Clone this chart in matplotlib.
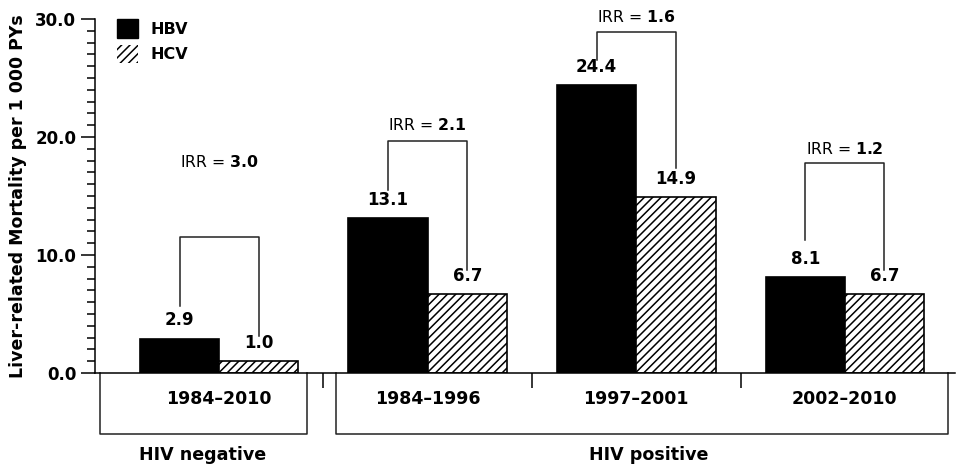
import numpy as np
import matplotlib.pyplot as plt
from matplotlib.patches import Patch

# data
periods = ['1984\u20132010', '1984\u20131996', '1997\u20132001', '2002\u20132010']
hbv = [2.9, 13.1, 24.4, 8.1]
hcv = [1.0, 6.7, 14.9, 6.7]
irr = ['3.0', '2.1', '1.6', '1.2']
# bracket geometry: top height, HBV leg bottom, HCV leg bottom, label height
bracket_top = [11.5, 19.7, 28.9, 17.8]
bracket_left_bottom = [5.7, 15.5, 26.5, 11.3]
bracket_right_bottom = [3.1, 8.7, 17.4, 8.7]
irr_label_y = [17.9, 21.0, 30.2, 19.0]
groups = ['HIV negative', 'HIV positive']

plt.rcParams['font.family'] = 'DejaVu Sans'
plt.rcParams['hatch.linewidth'] = 1.1
plt.rcParams['mathtext.fontset'] = 'dejavusans'

fig = plt.figure(figsize=(9.57, 4.66), dpi=100)
ax = fig.add_axes([0.0993, 0.1996, 0.899, 0.7594])

x = np.arange(len(periods))
w = 0.38
ax.bar(x - w/2, hbv, w, color='black', edgecolor='black', linewidth=1.2)
ax.bar(x + w/2, hcv, w, color='white', edgecolor='black', linewidth=1.2, hatch='////')

# value labels
for i in range(len(periods)):
    ax.text(x[i] - w/2, hbv[i] + 0.8, '%.1f' % hbv[i], ha='center', va='bottom',
            fontsize=12, fontweight='bold')
    ax.text(x[i] + w/2, hcv[i] + 0.8, '%.1f' % hcv[i], ha='center', va='bottom',
            fontsize=12, fontweight='bold')

# IRR brackets
for i in range(len(periods)):
    xl, xr = x[i] - w/2, x[i] + w/2
    ax.plot([xl, xl, xr, xr], [bracket_left_bottom[i], bracket_top[i], bracket_top[i],
            bracket_right_bottom[i]], color='#222222', lw=1.1, clip_on=False)
    ax.text(x[i], irr_label_y[i], r'IRR = $\mathbf{%s}$' % irr[i], ha='center',
            va='center', fontsize=11.3, clip_on=False)

ax.set_xlim(-0.595, 3.53)
ax.set_ylim(0, 30)
ax.set_yticks(np.arange(0, 31, 10))
ax.set_yticklabels(['%.1f' % v for v in np.arange(0, 31, 10)], fontsize=12, fontweight='bold')
ax.set_yticks(np.arange(0, 31, 1), minor=True)
ax.tick_params(axis='y', which='major', length=10, width=1.1)
ax.tick_params(axis='y', which='minor', length=6, width=1.1)
ax.set_xticks([0.5, 1.5, 2.5])
ax.set_xticklabels([])
ax.tick_params(axis='x', length=11, width=1.1)
ax.set_ylabel('Liver-related Mortality per 1 000 PYs', fontsize=12.5, fontweight='bold', labelpad=6)

for s in ['top', 'right']:
    ax.spines[s].set_visible(False)
for s in ['left', 'bottom']:
    ax.spines[s].set_linewidth(1.1)

# period labels under the axis
for i in range(len(periods)):
    ax.text(x[i], -2.2, periods[i], ha='center', va='center', fontsize=12.5,
            fontweight='bold', clip_on=False)

# group boxes
box_bottom = -5.17
for x0, x1 in [(-0.571, 0.422), (0.561, 3.497)]:
    ax.plot([x0, x0, x1, x1], [0, box_bottom, box_bottom, 0], color='#222222',
            lw=1.1, clip_on=False)
ax.text(-0.08, -6.95, groups[0], ha='center', va='center', fontsize=12.6,
        fontweight='bold', clip_on=False)
ax.text(2.06, -6.95, groups[1], ha='center', va='center', fontsize=12.6,
        fontweight='bold', clip_on=False)

handles = [Patch(facecolor='black', edgecolor='black'),
           Patch(facecolor='white', edgecolor='black', hatch='////', linewidth=0)]
leg = ax.legend(handles, ['HBV', 'HCV'], loc='upper left', bbox_to_anchor=(0.009, 1.04),
                frameon=False, handlelength=1.3, handleheight=1.4, handletextpad=0.8,
                labelspacing=0.45, prop={'weight': 'bold', 'size': 11.5})

fig.savefig('out.png', dpi=100)
